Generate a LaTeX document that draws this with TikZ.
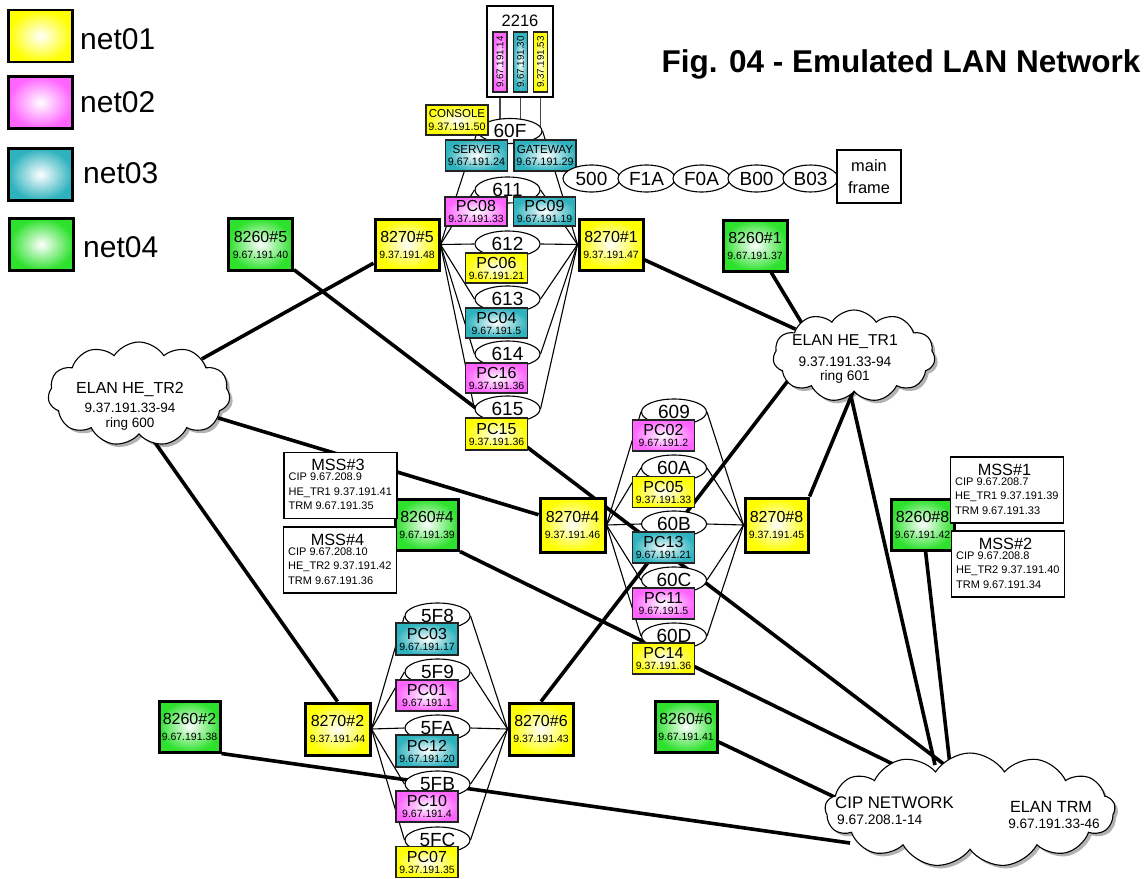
\documentclass[tikz,border=0pt]{standalone}
\usepackage{fontspec}
\setmainfont{Liberation Sans}
\usetikzlibrary{shapes.geometric,shapes.symbols,shadows}
\definecolor{cY}{RGB}{255,255,0}
\definecolor{cM}{RGB}{255,100,255}
\definecolor{cC}{RGB}{45,178,190}
\definecolor{cG}{RGB}{45,225,45}
\definecolor{bord}{RGB}{35,35,35}
\definecolor{lgray}{RGB}{70,70,70}
\newcommand{\fsz}[2]{\fontsize{#1}{#2}\selectfont}
\pgfdeclarelayer{back}
\pgfdeclarelayer{thinl}
\pgfdeclarelayer{thickl}
\pgfsetlayers{back,thinl,thickl,main}
\tikzset{
  shY/.style={shading=radial, inner color=white, outer color=cY},
  shM/.style={shading=radial, inner color=white, outer color=cM},
  shC/.style={shading=radial, inner color=white, outer color=cC},
  shG/.style={shading=radial, inner color=white, outer color=cG},
  pcbox/.style={draw=bord, line width=1.4pt, inner sep=0pt, minimum width=62pt, minimum height=31pt, align=center, font=\fsz{10.5}{11}},
  hubbox/.style={draw=black, line width=3pt, inner sep=0pt, minimum width=64pt, minimum height=52pt, align=center, font=\fsz{10.5}{16}},
  smallbox/.style={draw=bord, line width=1.4pt, inner sep=0pt, minimum width=62pt, minimum height=31pt, align=center, font=\fsz{10.8}{12.5}},
  vbox/.style={draw=bord, line width=1.3pt, inner sep=0pt, minimum width=60pt, minimum height=14pt, rotate=90, font=\fsz{9.8}{10}},
  ringell/.style={ellipse, draw=black, line width=1.1pt, fill=white, inner sep=0pt, minimum width=65pt, minimum height=26pt, font=\fsz{19}{19}},
  chainell/.style={ellipse, draw=black, line width=1.1pt, fill=white, inner sep=0pt, minimum width=57pt, minimum height=27pt, font=\fsz{19}{19}},
  ringline/.style={draw=black, line width=1.1pt},
  trunk/.style={draw=black, line width=3.6pt},
  cloudnode/.style={cloud, cloud puffs=11, cloud puff arc=115, cloud ignores aspect, draw=black, line width=1.1pt, fill=white, inner sep=0pt, drop shadow={shadow xshift=3pt, shadow yshift=-3pt, fill=black, opacity=0.3}},
  msbox/.style={draw=black, line width=1.1pt, fill=white, inner sep=0pt, minimum width=113pt, minimum height=66pt},
  txt/.style={inner sep=0pt, anchor=base west, font=\fsz{11}{11}},
  ctxt/.style={inner sep=0pt, anchor=base},
  legbox/.style={draw=black, line width=2.5pt, inner sep=0pt, minimum width=64pt, minimum height=52pt},
  legtxt/.style={inner sep=0pt, anchor=west, font=\fsz{30}{30}},
}
\newcommand{\mss}[7]{%
  \node[msbox] (#1) at (#2,#3) {};
  \node[inner sep=0pt, font=\fsz{16.3}{16}] (#1h) at ([xshift=-2.5pt, yshift=-13pt]#1.north) {#4};
  \node[txt] (#1a) at ([xshift=5pt, yshift=-29pt]#1.north west) {#5};
  \node[txt] (#1b) at ([xshift=5pt, yshift=-43.5pt]#1.north west) {#6};
  \node[txt] (#1c) at ([xshift=5pt, yshift=-58pt]#1.north west) {#7};
}
\begin{document}
\begin{tikzpicture}[x=1pt,y=-1pt]
\useasboundingbox (0,0) rectangle (1148,878);
\begin{pgfonlayer}{back}
\fill[white] (0,0) rectangle (1148,878);
\end{pgfonlayer}

% legend and title
\node[legbox, shY] (leg1) at (40.5,36) {};
\node[legbox, shM] (leg2) at (40.5,102.5) {};
\node[legbox, shC] (leg3) at (40.5,174.5) {};
\node[legbox, shG] (leg4) at (41.5,244.5) {};
\node[legtxt] (lt1) at (80,39) {net01};
\node[legtxt] (lt2) at (80,102) {net02};
\node[legtxt] (lt3) at (83,173) {net03};
\node[legtxt] (lt4) at (83,247) {net04};
\node[inner sep=0pt, font=\bfseries\fsz{31.5}{32}] (title) at (901,64) {Fig. 04 - Emulated LAN Network};

% clouds
\node[cloudnode, minimum width=182pt, minimum height=104pt] (tr2) at (139,394) {};
\node[cloudnode, minimum width=162pt, minimum height=92pt] (tr1) at (854,356) {};
\node[cloudnode, cloud puffs=13, minimum width=290pt, minimum height=114pt] (cip) at (970,810) {};
\node[ctxt, font=\fsz{16}{16}] (tr2t1) at (130,393) {ELAN HE\_TR2};
\node[ctxt, font=\fsz{13.5}{14}] (tr2t2) at (130,412) {9.37.191.33-94};
\node[ctxt, font=\fsz{13.5}{14}] (tr2t3) at (130,427) {ring 600};
\node[ctxt, font=\fsz{15.7}{16}] (tr1t1) at (845,345.7) {ELAN HE\_TR1};
\node[ctxt, font=\fsz{13.8}{14}] (tr1t2) at (845,366) {9.37.191.33-94};
\node[ctxt, font=\fsz{13.8}{14}] (tr1t3) at (845,380.5) {ring 601};
\node[inner sep=0pt, anchor=base west, font=\fsz{16.8}{17}] (cipt1) at (835,808) {CIP NETWORK};
\node[inner sep=0pt, anchor=base west, font=\fsz{13.8}{14}] (cipt2) at (837,824) {9.67.208.1-14};
\node[ctxt, font=\fsz{16.2}{16}] (cipt3) at (1051,812) {ELAN TRM};
\node[ctxt, font=\fsz{13.6}{14}] (cipt4) at (1054,828) {9.67.191.33-46};

% 2216
\node[draw=black, line width=2.6pt, fill=white, inner sep=0pt, minimum width=66pt, minimum height=91pt] (n2216) at (520,51.5) {};
\node[inner sep=0pt, font=\fsz{16.5}{17}] (n2216t) at (520,21) {2216};
\node[vbox, shM] (v1) at (500,62) {9.67.191.14};
\node[vbox, shC] (v2) at (520.5,62) {9.67.191.30};
\node[vbox, shY] (v3) at (540.5,62) {9.37.191.53};

% center ring
\node[ringell, minimum width=64pt, minimum height=25pt] (e60F) at (510,131) {60F};
\node[ringell] (e611) at (507.5,190) {611};
\node[ringell] (e612) at (507.5,244) {612};
\node[ringell] (e613) at (507.5,299) {613};
\node[ringell] (e614) at (507.5,354) {614};
\node[ringell] (e615) at (507.5,409) {615};
\node[smallbox, shY, minimum height=30pt] (con) at (457,120) {{\fsz{11.5}{11.5}CONSOLE}\\9.37.191.50};
\node[smallbox, shC] (srv) at (476.5,155.5) {{\fsz{11.7}{11.7}SERVER}\\9.67.191.24};
\node[smallbox, shC] (gw) at (545,155.5) {{\fsz{11.7}{11.7}GATEWAY}\\9.67.191.29};
\node[pcbox, shM, minimum height=29pt] (pc08) at (476,211.5) {{\fsz{16}{16}PC08}\\9.37.191.33};
\node[pcbox, shC, minimum height=29pt] (pc09) at (544.5,211.5) {{\fsz{16}{16}PC09}\\9.67.191.19};
\node[pcbox, shY, minimum height=30pt] (pc06) at (496.5,268) {{\fsz{16}{16}PC06}\\9.67.191.21};
\node[pcbox, shC, minimum height=30pt] (pc04) at (496.5,323) {{\fsz{16}{16}PC04}\\9.67.191.5};
\node[pcbox, shM, minimum height=30pt] (pc16) at (496.5,378) {{\fsz{16}{16}PC16}\\9.37.191.36};
\node[pcbox, shY, minimum height=32pt] (pc15) at (496.5,434) {{\fsz{16}{16}PC15}\\9.37.191.36};

% mainframe chain
\node[chainell] (c500) at (591.5,178.5) {500};
\node[chainell] (cF1A) at (646.5,178.5) {F1A};
\node[chainell] (cF0A) at (701.5,178.5) {F0A};
\node[chainell] (cB00) at (756.5,178.5) {B00};
\node[chainell, minimum width=55pt] (cB03) at (810.5,178.5) {B03};
\node[draw=black, line width=1.1pt, fill=white, minimum width=64pt, minimum height=53pt, inner sep=0pt, align=center, font=\fsz{16.4}{22}] (mf) at (869,176.5) {main\\frame};

% right ring
\node[ringell] (e609) at (674,412) {609};
\node[ringell] (e60A) at (674,468) {60A};
\node[ringell] (e60B) at (674,524) {60B};
\node[ringell] (e60C) at (674,580) {60C};
\node[ringell] (e60D) at (674,636) {60D};
\node[pcbox, shM] (pc02) at (663.5,435.5) {{\fsz{16}{16}PC02}\\9.67.191.2};
\node[pcbox, shY] (pc05) at (663.5,492) {{\fsz{16}{16}PC05}\\9.37.191.33};
\node[pcbox, shC] (pc13) at (663.5,547.5) {{\fsz{16}{16}PC13}\\9.67.191.21};
\node[pcbox, shM] (pc11) at (663.5,603.5) {{\fsz{16}{16}PC11}\\9.67.191.5};
\node[pcbox, shY] (pc14) at (663.5,658.5) {{\fsz{16}{16}PC14}\\9.37.191.36};

% bottom ring
\node[ringell] (e5F8) at (437.5,616) {5F8};
\node[ringell] (e5F9) at (437.5,672) {5F9};
\node[ringell] (e5FA) at (437.5,728) {5FA};
\node[ringell] (e5FB) at (437.5,784) {5FB};
\node[ringell] (e5FC) at (437.5,840) {5FC};
\node[pcbox, shC, minimum height=32pt] (pc03) at (427,639) {{\fsz{16}{16}PC03}\\9.67.191.17};
\node[pcbox, shM] (pc01) at (427,695.5) {{\fsz{16}{16}PC01}\\9.67.191.1};
\node[pcbox, shC, minimum height=32pt] (pc12) at (427,751) {{\fsz{16}{16}PC12}\\9.67.191.20};
\node[pcbox, shM] (pc10) at (427,806.5) {{\fsz{16}{16}PC10}\\9.67.191.4};
\node[pcbox, shY] (pc07) at (427,862) {{\fsz{16}{16}PC07}\\9.37.191.35};

% hubs
\node[hubbox, shY, minimum height=51pt] (h85) at (407,244.5) {{\fsz{16}{16}8270\#5}\\9.37.191.48};
\node[hubbox, shY, minimum height=51pt] (h81) at (611,244.5) {{\fsz{16}{16}8270\#1}\\9.37.191.47};
\node[hubbox, shY, minimum width=65pt, minimum height=54pt] (h84) at (572.5,525) {{\fsz{16}{16}8270\#4}\\9.37.191.46};
\node[hubbox, shY, minimum width=63pt, minimum height=54pt] (h88) at (776.5,525) {{\fsz{16}{16}8270\#8}\\9.37.191.45};
\node[hubbox, shY, minimum width=65pt] (h82) at (337.5,729) {{\fsz{16}{16}8270\#2}\\9.37.191.44};
\node[hubbox, shY] (h86) at (541,729) {{\fsz{16}{16}8270\#6}\\9.37.191.43};
\node[hubbox, shG] (g85) at (260.5,244.5) {{\fsz{16}{16}8260\#5}\\9.67.191.40};
\node[hubbox, shG, minimum height=51pt] (g81) at (755,245.5) {{\fsz{16}{16}8260\#1}\\9.67.191.37};
\node[hubbox, shG, minimum width=63pt, minimum height=51pt] (g84) at (427,524.5) {{\fsz{16}{16}8260\#4}\\9.67.191.39};
\node[hubbox, shG, minimum width=63pt, minimum height=51pt] (g88) at (922.5,524.5) {{\fsz{16}{16}8260\#8}\\9.67.191.42};
\node[hubbox, shG, minimum width=61pt, minimum height=51pt] (g82) at (189.5,726.5) {{\fsz{16}{16}8260\#2}\\9.67.191.38};
\node[hubbox, shG, minimum width=62pt, minimum height=51pt] (g86) at (686,726.5) {{\fsz{16}{16}8260\#6}\\9.67.191.41};

% MSS boxes
\mss{m3}{340.5}{485.5}{MSS\#3}{CIP 9.67.208.9}{HE\_TR1 9.37.191.41}{TRM 9.67.191.35}
\mss{m4}{340}{560}{MSS\#4}{CIP 9.67.208.10}{HE\_TR2 9.37.191.42}{TRM 9.67.191.36}
\mss{m1}{1007}{490}{MSS\#1}{CIP 9.67.208.7}{HE\_TR1 9.37.191.39}{TRM 9.67.191.33}
\mss{m2}{1008}{564}{MSS\#2}{CIP 9.67.208.8}{HE\_TR2 9.37.191.40}{TRM 9.67.191.34}

% free ends inside clouds
\coordinate (cipA) at (945,765);
\coordinate (cipB) at (905,770);
\coordinate (cipC) at (935,765);
\coordinate (cipD) at (950,765);
\coordinate (cipE) at (845,802);
\coordinate (cipF) at (850,843);
\coordinate (tr2a) at (125,400);
\coordinate (tr1a) at (800,365);
\coordinate (tr1b) at (858,380);
\coordinate (tr1c) at (845,370);
\coordinate (tr1d) at (815,345);

% thin connectors
\begin{pgfonlayer}{thinl}
\foreach \e in {e60F,e611,e612,e613,e614,e615}{
  \draw[ringline] (h85.east) -- (\e.west);
  \draw[ringline] (\e.east) -- (h81.west);
}
\foreach \e in {e609,e60A,e60B,e60C,e60D}{
  \draw[ringline] (h84.east) -- (\e.west);
  \draw[ringline] (\e.east) -- (h88.west);
}
\foreach \e in {e5F8,e5F9,e5FA,e5FB,e5FC}{
  \draw[ringline] (h82.east) -- (\e.west);
  \draw[ringline] (\e.east) -- (h86.west);
}
\foreach \v in {v1,v2,v3}{
  \draw[draw=lgray, line width=1.8pt] (\v.west) -- (\v.west |- e60F.center);
}
\end{pgfonlayer}

% thick connectors
\begin{pgfonlayer}{thickl}
\draw[trunk] (h85) -- (tr2);
\draw[trunk] (g85) -- (cipA);
\draw[trunk] (h81) -- (tr1);
\draw[trunk] (g81) -- (tr1d);
\draw[trunk] (tr2a) -- (h82.north);
\draw[trunk] (tr2) -- (h84);
\draw[trunk] (g84.south east) -- (cipB);
\draw[trunk] (h86.north) -- (tr1a);
\draw[trunk] (h88.north east) -- (tr1b);
\draw[trunk] (tr1c) -- (cipC);
\draw[trunk] (g88) -- (cipD);
\draw[trunk] (g86) -- (cipE);
\draw[trunk] (g82.south east) -- (cipF);
\end{pgfonlayer}
\end{tikzpicture}
\end{document}
